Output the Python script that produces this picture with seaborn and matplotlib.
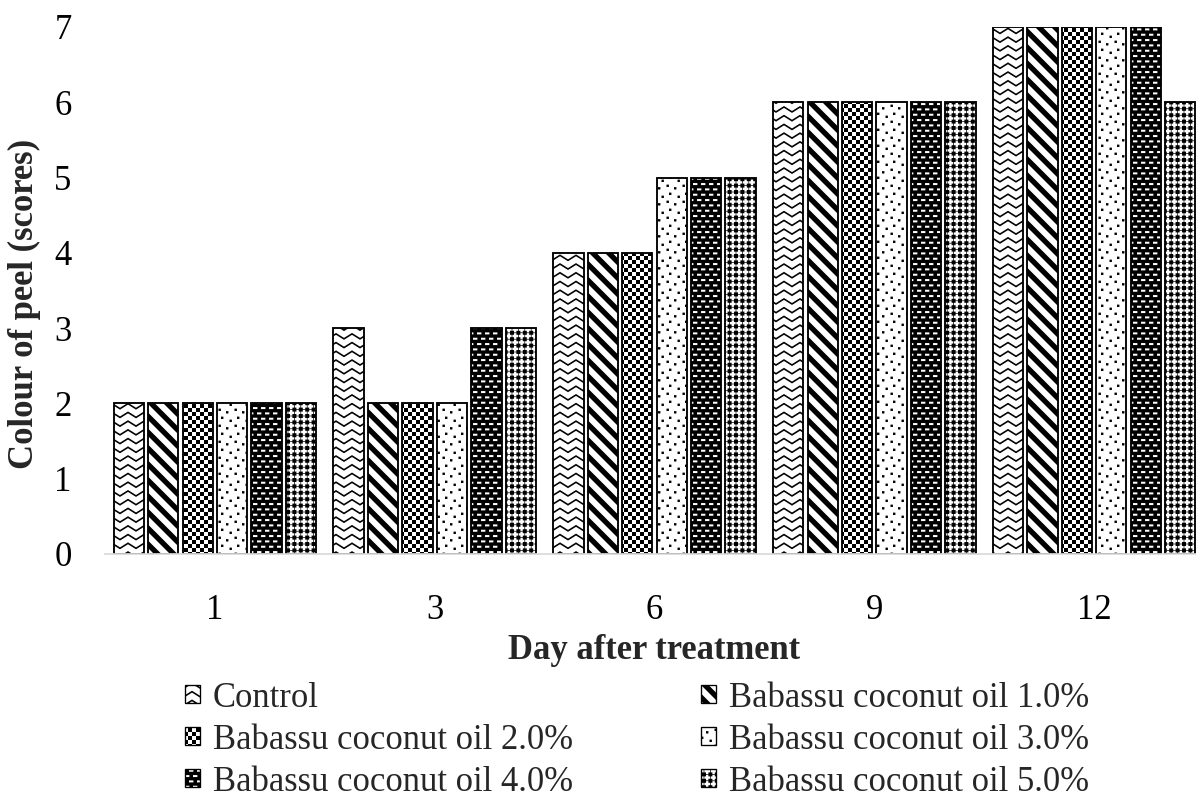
import warnings

import numpy as np
import pandas as pd
import matplotlib
matplotlib.use("Agg")
import matplotlib.pyplot as plt
import matplotlib.hatch as mhatch
from matplotlib.path import Path
from matplotlib.patches import Patch
import seaborn as sns

warnings.filterwarnings("ignore")

# ---------------------------------------------------------------- data
days = ["1", "3", "6", "9", "12"]
treatments = [
    "Control",
    "Babassu coconut oil 1.0%",
    "Babassu coconut oil 2.0%",
    "Babassu coconut oil 3.0%",
    "Babassu coconut oil 4.0%",
    "Babassu coconut oil 5.0%",
]
control = [2, 3, 4, 6, 7]
oil_1 = [2, 2, 4, 6, 7]
oil_2 = [2, 2, 4, 6, 7]
oil_3 = [2, 2, 5, 6, 7]
oil_4 = [2, 3, 5, 6, 7]
oil_5 = [2, 3, 5, 6, 6]
scores = [control, oil_1, oil_2, oil_3, oil_4, oil_5]

# fill pattern code for each treatment (custom hatch letters defined below)
fills = ["z", "s", "k", "d", "e", "g"]

DPI = 96
TILE = DPI  # Agg hatch tile is one inch, i.e. DPI pixels


# ---------------------------------------------------------------- hatch patterns
def _poly(points, hole=False):
    pts = list(points)
    if hole:
        pts = pts[::-1]
    verts = pts + [pts[0]]
    codes = [Path.MOVETO] + [Path.LINETO] * (len(pts) - 1) + [Path.CLOSEPOLY]
    return verts, codes


def _rect(x0, y0, w, h, hole=False):
    return _poly([(x0, y0), (x0 + w, y0), (x0 + w, y0 + h), (x0, y0 + h)], hole)


def _rect_wrapped(x0, y0, w, h, hole=False):
    """Rectangle that wraps around the right edge of the tile."""
    out = []
    if x0 + w > TILE:
        out.append(_rect(x0, y0, TILE - x0, h, hole))
        out.append(_rect(0, y0, x0 + w - TILE, h, hole))
    else:
        out.append(_rect(x0, y0, w, h, hole))
    return out


def _join(parts):
    verts, codes = [], []
    for v, c in parts:
        verts += v
        codes += c
    return verts, codes


def _zigzag():
    nx, ny = 6, 11
    px, py = TILE / nx, TILE / ny
    amp, t = 5.0, 1.9
    parts = []
    for j in range(ny):
        y0 = j * py + 1.5
        line = []
        for i in range(nx * 2 + 1):
            x = i * px / 2
            line.append((x, y0 + (amp if i % 2 == 0 else 0.0)))
        upper = [(x, y + t / 2) for x, y in line]
        lower = [(x, y - t / 2) for x, y in line[::-1]]
        parts.append(_poly(upper + lower))
    return _join(parts)


def _stripes():
    period, w = 16.0, 7.5
    parts = []
    for k in range(-2, 15):
        c = k * period
        parts.append(_poly([(-20, c + 20), (TILE + 20, c - TILE - 20),
                            (TILE + 20, c - TILE - 20 + w), (-20, c + 20 + w)]))
    return _join(parts)


def _checker():
    cell, sq = 8.0, 4.0
    n = int(TILE / cell)
    parts = []
    for i in range(n):
        for j in range(n):
            x, y = i * cell, j * cell
            parts.append(_rect(x, y, sq, sq))
            parts.append(_rect(x + sq, y + sq, sq, sq))
    return _join(parts)


def _dots():
    cell, s = 16.0, 2.4
    n = int(TILE / cell)
    offsets = [(2.0, 2.5), (10.5, 5.0), (5.5, 10.0), (13.0, 13.0)]
    parts = []
    for i in range(n):
        for j in range(n):
            for ox, oy in offsets:
                parts.append(_rect(i * cell + ox, j * cell + oy, s, s))
    return _join(parts)


def _dashes():
    ncol, nrow = 12, 18
    cw, rh = TILE / ncol, TILE / nrow
    w, h = 4.4, 2.0
    parts = [_rect(0, 0, TILE, TILE)]
    for j in range(nrow):
        for i in range(ncol):
            x0 = i * cw + (cw / 2 if j % 2 else 0.0) + 1.0
            parts += _rect_wrapped(x0, j * rh + 1.6, w, h, hole=True)
    return _join(parts)


def _plus_grid():
    n = 15
    cell = TILE / n
    a, L = 1.2, 2.85  # half arm width, half arm length
    parts = [_rect(0, 0, TILE, TILE)]
    for i in range(n):
        for j in range(n):
            cx, cy = (i + 0.5) * cell, (j + 0.5) * cell
            shape = [(cx - a, cy - L), (cx + a, cy - L), (cx + a, cy - a),
                     (cx + L, cy - a), (cx + L, cy + a), (cx + a, cy + a),
                     (cx + a, cy + L), (cx - a, cy + L), (cx - a, cy + a),
                     (cx - L, cy + a), (cx - L, cy - a), (cx - a, cy - a)]
            parts.append(_poly(shape, hole=True))
    return _join(parts)


_BUILDERS = {"z": _zigzag, "s": _stripes, "k": _checker,
             "d": _dots, "e": _dashes, "g": _plus_grid}
_CACHE = {}


def _pattern(ch):
    if ch not in _CACHE:
        v, c = _BUILDERS[ch]()
        _CACHE[ch] = (np.asarray(v, float) / TILE,
                      np.asarray(c, dtype=Path.code_type))
    return _CACHE[ch]


class FillPatternHatch(mhatch.HatchPatternBase):
    def __init__(self, hatch, density):
        verts, codes = [], []
        for ch in _BUILDERS:
            if ch in hatch:
                v, c = _pattern(ch)
                verts.append(v)
                codes.append(c)
        if verts:
            self._verts = np.concatenate(verts)
            self._codes = np.concatenate(codes)
        else:
            self._verts = np.empty((0, 2))
            self._codes = np.empty(0, dtype=Path.code_type)
        self.num_vertices = len(self._verts)

    def set_vertices_and_codes(self, vertices, codes):
        vertices[:] = self._verts
        codes[:] = self._codes


mhatch._hatch_types.append(FillPatternHatch)

# ---------------------------------------------------------------- style
sns.set_theme(style="white")
plt.rcParams["font.family"] = ["Liberation Serif", "DejaVu Serif"]
plt.rcParams["hatch.linewidth"] = 0.0

df = pd.DataFrame(
    [(d, t, s[i]) for t, s in zip(treatments, scores) for i, d in enumerate(days)],
    columns=["day", "treatment", "score"],
)

fig = plt.figure(figsize=(1196 / DPI, 803 / DPI), dpi=DPI)
ax = fig.add_axes([0.0878, 0.3101, 0.9189, 0.6563])

sns.barplot(
    data=df, x="day", y="score", hue="treatment",
    order=days, hue_order=treatments,
    palette={t: "white" for t in treatments}, saturation=1,
    edgecolor="black", linewidth=1.4,
    width=0.94, gap=0.12, errorbar=None, legend=False, ax=ax,
)

for container, fill in zip(ax.containers, fills):
    for bar in container:
        bar.set_hatch(fill)

ax.set_xlim(-0.5, len(days) - 0.5)
ax.set_ylim(0, 7)
ax.set_yticks(range(8))
ax.tick_params(axis="both", length=0, labelsize=26, colors="black")
ax.tick_params(axis="y", pad=25)
ax.tick_params(axis="x", pad=30)
for side in ("left", "top", "right"):
    ax.spines[side].set_visible(False)
ax.spines["bottom"].set_color("#d9d9d9")
ax.spines["bottom"].set_linewidth(1.3)
ax.grid(False)

ax.set_xlabel("Day after treatment", fontsize=26, fontweight="bold")
ax.xaxis.set_label_coords(0.5, -0.152)
ax.set_ylabel("Colour of peel (scores)", fontsize=26, fontweight="bold")
ax.yaxis.set_label_coords(-0.058, 0.475)

# legend laid out row by row in two columns
order = [0, 2, 4, 1, 3, 5]
handles = [Patch(facecolor="white", edgecolor="black", linewidth=1.0,
                 hatch=fills[i]) for i in order]
labels = [treatments[i] for i in order]
fig.legend(
    handles, labels, ncol=2, loc="upper left", bbox_to_anchor=(0.1547, 0.151),
    frameon=False, fontsize=26, handlelength=0.43, handleheight=0.43,
    handletextpad=0.37, columnspacing=3.7, labelspacing=0.26,
    borderpad=0, borderaxespad=0,
)

fig.savefig("out.png", dpi=DPI)
